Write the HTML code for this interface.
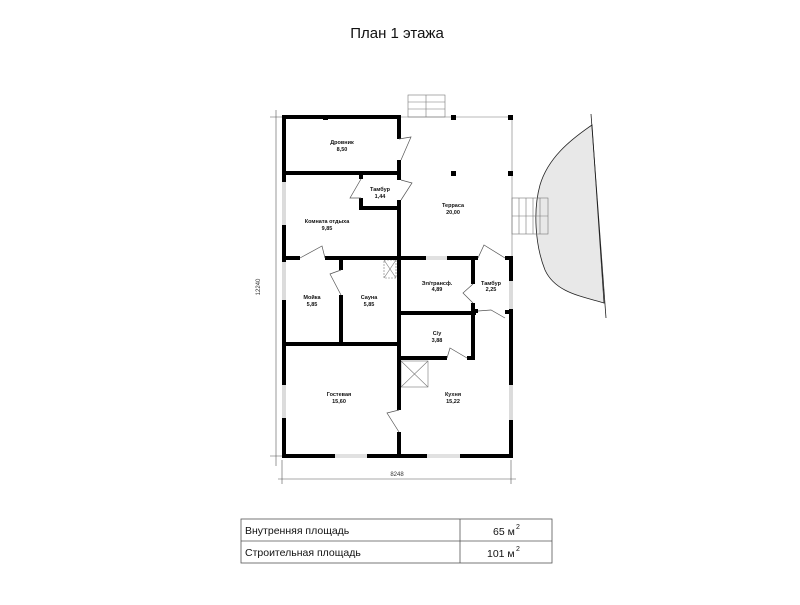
<!DOCTYPE html>
<html><head><meta charset="utf-8"><style>
body{margin:0;background:#fff;width:800px;height:600px;overflow:hidden;font-family:"Liberation Sans","DejaVu Sans",sans-serif}
</style></head><body>
<svg width="800" height="600" viewBox="0 0 800 600" xmlns="http://www.w3.org/2000/svg" font-family="Liberation Sans, DejaVu Sans, sans-serif">
<text x="397" y="38" font-size="15" text-anchor="middle" fill="#111">План 1 этажа</text>
<!-- dimension lines -->
<g stroke="#555" stroke-width="0.6" fill="none">
<line x1="276" y1="110" x2="276" y2="466"/>
<line x1="270" y1="117" x2="290" y2="117"/>
<line x1="270" y1="456" x2="290" y2="456"/>
<line x1="282" y1="460" x2="282" y2="484"/>
<line x1="511" y1="460" x2="511" y2="484"/>
<line x1="278" y1="479" x2="516" y2="479"/>
</g>
<text x="260" y="287" font-size="6" fill="#333" text-anchor="middle" transform="rotate(-90 260 287)">12240</text>
<text x="397" y="476" font-size="6" fill="#333" text-anchor="middle">8248</text>
<!-- shaded area -->
<path d="M592,125 C570,140 548,158 540,185 C533,210 535,245 545,270 C555,292 580,296 604,303 L592,125 Z" fill="#e8e8e8" stroke="#222" stroke-width="0.8"/>
<line x1="591" y1="114" x2="606" y2="318" stroke="#222" stroke-width="0.8"/>
<!-- stairs -->
<g stroke="#777" stroke-width="0.6" fill="none">
<rect x="408" y="95" width="37" height="22"/>
<line x1="408" y1="102" x2="445" y2="102"/><line x1="408" y1="109" x2="445" y2="109"/>
<line x1="426" y1="95" x2="426" y2="117"/>
<rect x="512" y="198" width="36" height="36"/>
<line x1="519" y1="198" x2="519" y2="234"/><line x1="526" y1="198" x2="526" y2="234"/><line x1="533" y1="198" x2="533" y2="234"/><line x1="540" y1="198" x2="540" y2="234"/>
<line x1="512" y1="216" x2="548" y2="216"/>
<!-- terrace outline -->
<line x1="399" y1="117" x2="512" y2="117"/>
<line x1="512" y1="117" x2="512" y2="258"/>
<!-- vent boxes -->
<rect x="384" y="260" width="12" height="18" stroke-dasharray="2,1"/>
<line x1="384" y1="260" x2="396" y2="278"/><line x1="396" y1="260" x2="384" y2="278"/>
<rect x="401" y="361" width="27" height="26"/>
<line x1="401" y1="361" x2="428" y2="387"/><line x1="428" y1="361" x2="401" y2="387"/>
</g>
<!-- windows (thin double lines) -->
<g stroke="#888" stroke-width="0.6">
<line x1="283" y1="262" x2="283" y2="300"/><line x1="285" y1="262" x2="285" y2="300"/>
<line x1="283" y1="385" x2="283" y2="418"/><line x1="285" y1="385" x2="285" y2="418"/>
<line x1="283" y1="182" x2="283" y2="225"/><line x1="285" y1="182" x2="285" y2="225"/>
<line x1="335" y1="455" x2="367" y2="455"/><line x1="335" y1="457" x2="367" y2="457"/>
<line x1="427" y1="455" x2="460" y2="455"/><line x1="427" y1="457" x2="460" y2="457"/>
<line x1="510" y1="280" x2="510" y2="310"/><line x1="512" y1="280" x2="512" y2="310"/>
<line x1="510" y1="385" x2="510" y2="420"/><line x1="512" y1="385" x2="512" y2="420"/>
<line x1="426" y1="257" x2="447" y2="257"/><line x1="426" y1="259" x2="447" y2="259"/>
</g>
<!-- walls -->
<g fill="#000">
<!-- outer left -->
<rect x="282" y="115" width="4" height="67"/>
<rect x="282" y="225" width="4" height="37"/>
<rect x="282" y="300" width="4" height="85"/>
<rect x="282" y="418" width="4" height="40"/>
<!-- top -->
<rect x="282" y="115" width="119" height="4"/>
<!-- drovnik bottom -->
<rect x="282" y="171" width="119" height="4"/>
<!-- x399 -->
<rect x="397" y="115" width="4" height="24"/>
<rect x="397" y="160" width="4" height="15"/>
<rect x="397" y="171" width="4" height="9"/>
<rect x="397" y="200" width="4" height="210"/>
<rect x="397" y="432" width="4" height="26"/>
<!-- tambur -->
<rect x="359" y="171" width="4" height="8"/>
<rect x="359" y="198" width="4" height="12"/>
<rect x="359" y="206" width="42" height="4"/>
<!-- komnata bottom -->
<rect x="282" y="256" width="18" height="4"/>
<rect x="325" y="256" width="76" height="4"/>
<!-- terrace bottom wall -->
<rect x="399" y="256" width="27" height="4"/>
<rect x="447" y="256" width="31" height="4"/>
<rect x="505" y="256" width="8" height="4"/>
<!-- mojka/sauna -->
<rect x="339" y="256" width="4" height="14"/>
<rect x="339" y="295" width="4" height="51"/>
<rect x="282" y="342" width="119" height="4"/>
<!-- el/trans bottom -->
<rect x="399" y="311" width="77" height="4"/>
<!-- x473 -->
<rect x="471" y="256" width="4" height="28"/>
<rect x="471" y="303" width="4" height="57"/>
<rect x="471" y="309" width="7" height="4"/>
<!-- right wall -->
<rect x="509" y="256" width="4" height="25"/>
<rect x="509" y="309" width="4" height="76"/>
<rect x="509" y="420" width="4" height="38"/>
<rect x="505" y="310" width="8" height="4"/>
<!-- c/y bottom -->
<rect x="399" y="356" width="48" height="4"/>
<rect x="467" y="356" width="8" height="4"/>
<!-- bottom -->
<rect x="282" y="454" width="53" height="4"/>
<rect x="367" y="454" width="60" height="4"/>
<rect x="460" y="454" width="53" height="4"/>
<!-- posts -->
<rect x="323" y="115" width="5" height="5"/>
<rect x="451" y="115" width="5" height="5"/>
<rect x="508" y="115" width="5" height="5"/>
<rect x="451" y="171" width="5" height="5"/>
<rect x="508" y="171" width="5" height="5"/>
</g>
<!-- doors -->
<g stroke="#555" stroke-width="0.7" fill="none">
<polyline points="399,139 411,137 401,160"/>
<polyline points="361,179 350,198 361,198"/>
<polyline points="401,180 412,183 401,200"/>
<polyline points="300,258 322,246 325,258"/>
<polyline points="341,270 330,274 341,295"/>
<polyline points="399,410 387,413 399,432"/>
<polyline points="478,258 484,245 505,258"/>
<polyline points="473,284 463,293 473,303"/>
<polyline points="478,311 491,310 505,318"/>
<polyline points="447,358 450,348 467,358"/>
</g>
<!-- labels -->
<g font-size="5.5" text-anchor="middle" fill="#111" font-weight="bold">
<text x="342" y="144">Дровник</text><text x="342" y="151">8,50</text>
<text x="380" y="191">Тамбур</text><text x="380" y="198">1,44</text>
<text x="453" y="207">Терраса</text><text x="453" y="214">20,00</text>
<text x="327" y="223">Комната отдыха</text><text x="327" y="230">9,85</text>
<text x="312" y="299">Мойка</text><text x="312" y="306">5,85</text>
<text x="369" y="299">Сауна</text><text x="369" y="306">5,85</text>
<text x="437" y="285">Эл/трансф.</text><text x="437" y="291">4,89</text>
<text x="491" y="285">Тамбур</text><text x="491" y="291">2,25</text>
<text x="437" y="335">С/у</text><text x="437" y="342">3,88</text>
<text x="339" y="396">Гостевая</text><text x="339" y="403">15,60</text>
<text x="453" y="396">Кухня</text><text x="453" y="403">15,22</text>
</g>
<!-- table -->
<g stroke="#555" stroke-width="0.8" fill="none">
<rect x="241" y="519" width="311" height="44"/>
<line x1="241" y1="541" x2="552" y2="541"/>
<line x1="460" y1="519" x2="460" y2="563"/>
</g>
<g font-size="10.5" fill="#111">
<text x="245" y="534">Внутренняя площадь</text>
<text x="245" y="556">Строительная площадь</text>
<text x="493" y="535">65 м</text><text x="516" y="529" font-size="7">2</text>
<text x="487" y="557">101 м</text><text x="516" y="551" font-size="7">2</text>
</g>
</svg>
</body></html>
